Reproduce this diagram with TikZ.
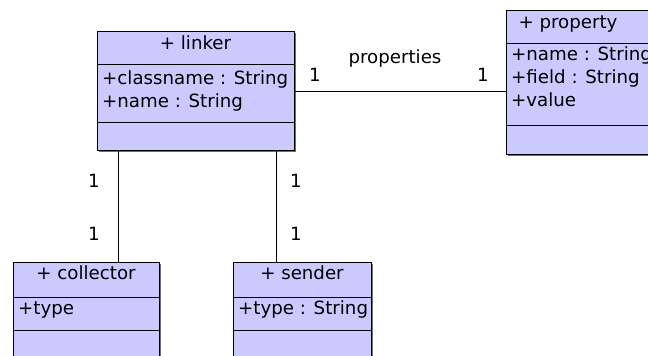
\documentclass[tikz,border=0pt]{standalone}
\usepackage{fontspec}
\setmainfont{DejaVu Sans}
\definecolor{umlfill}{RGB}{202,202,255}
\definecolor{umlshadow}{RGB}{110,110,110}
\begin{document}
\begin{tikzpicture}[x=1pt,y=-1pt,
  every node/.style={font=\fontsize{18.2}{23}\selectfont, inner sep=0pt},
  cls/.style={draw=black, fill=umlfill, line width=1pt, anchor=north west, inner sep=0pt},
  hdr/.style={anchor=base},
  attr/.style={anchor=base west},
  lbl/.style={anchor=center},
  conn/.style={draw=black, line width=0.8pt}]
\clip (0,0) rectangle (648,356);
\fill[white] (0,0) rectangle (648,356);
% shadows
\fill[umlshadow] (98.5,32.5) rectangle (295.5,151.5);
\fill[umlshadow] (507.5,11.5) rectangle (680,155.5);
\fill[umlshadow] (14.5,263.5) rectangle (160.5,380);
\fill[umlshadow] (234.5,263.5) rectangle (372.5,380);
% linker
\node[cls, minimum width=197pt, minimum height=119pt] (linker) at (97,31) {};
\draw[line width=1pt] (97,64) -- (294,64);
\draw[line width=1pt] (97,122) -- (294,122);
\node[hdr] (linkerT) at (195.5,49) {+ linker};
\node[attr] (linkerA1) at (102,84) {+classname : String};
\node[attr] (linkerA2) at (102,107) {+name : String};
% property
\node[cls, minimum width=170pt, minimum height=144pt] (property) at (506,10) {};
\draw[line width=1pt] (506,43) -- (676,43);
\draw[line width=1pt] (506,125) -- (676,125);
\node[hdr] (propertyT) at (568,28) {+ property};
\node[attr] (propertyA1) at (511,60) {+name : String};
\node[attr] (propertyA2) at (511,83) {+field : String};
\node[attr] (propertyA3) at (511,106) {+value};
% collector
\node[cls, minimum width=146pt, minimum height=120pt] (collector) at (13,262) {};
\draw[line width=1pt] (13,297) -- (159,297);
\draw[line width=1pt] (13,330) -- (159,330);
\node[hdr] (collectorT) at (86,279) {+ collector};
\node[attr] (collectorA1) at (18,314) {+type};
% sender
\node[cls, minimum width=138pt, minimum height=120pt] (sender) at (233,262) {};
\draw[line width=1pt] (233,297) -- (371,297);
\draw[line width=1pt] (233,330) -- (371,330);
\node[hdr] (senderT) at (302,279) {+ sender};
\node[attr] (senderA1) at (238,314) {+type : String};
% connectors
\coordinate (lc) at (118,150);
\coordinate (ls) at (276,150);
\draw[conn] (linker.east) -- (linker.east -| property.west);
\draw[conn] (lc) -- (lc |- collector.north);
\draw[conn] (ls) -- (ls |- sender.north);
% labels
\node[lbl] (m1) at (315,75) {1};
\node[lbl] (m2) at (483,75) {1};
\node[lbl] (pname) at (395,58) {properties};
\node[lbl] (m3) at (94,181) {1};
\node[lbl] (m4) at (94,234) {1};
\node[lbl] (m5) at (296,181) {1};
\node[lbl] (m6) at (296,234) {1};
\end{tikzpicture}
\end{document}
